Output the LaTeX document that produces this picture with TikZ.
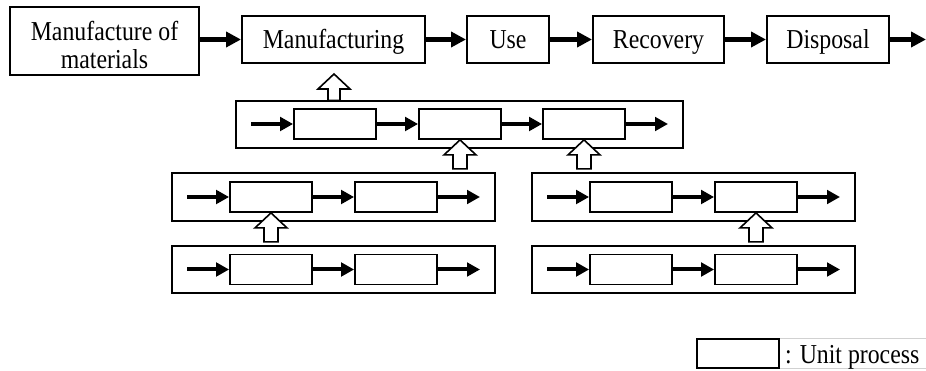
\documentclass[tikz,border=0pt]{standalone}
\usepackage{fontspec}
\setmainfont{Liberation Serif}
\usetikzlibrary{arrows.meta}

% serif labels, set slightly tall
\newcommand\tallword[1]{\scalebox{1}[1.15]{#1}}

\tikzset{
  stage/.style={draw, line width=2pt, inner sep=0pt,
    font=\fontsize{23.8}{27}\selectfont, text height=21pt, text depth=2pt},
  stagetext/.style={inner sep=0pt, font=\fontsize{23.8}{27}\selectfont},
  chain/.style={draw, line width=2pt, inner sep=0pt},
  unitbox/.style={draw, line width=1.8pt, inner sep=0pt,
    minimum width=82pt, minimum height=30pt},
  flow/.style={line width=4.3pt, -{Triangle[length=15pt,width=15pt]}},
  flowsmall/.style={line width=4pt, -{Triangle[length=13pt,width=13.5pt]}},
  hollow/.style={draw, fill=white, line width=1.6pt, line join=miter},
}

\begin{document}
\begin{tikzpicture}[x=1pt, y=-1pt]
\useasboundingbox (0,0) rectangle (926,371);

% life-cycle stages
\node[stage, minimum width=189pt, minimum height=68pt] (mat) at (104.5,41) {};
\node[stagetext, anchor=base] (matA) at (104.5,40.7) {\tallword{Manufacture of}};
\node[stagetext, anchor=base] (matB) at (104.5,68.3) {\tallword{materials}};
\node[stage, minimum width=183pt, minimum height=47pt] (mfg) at (333.5,39.5) {\tallword{Manufacturing}};
\node[stage, minimum width=82pt,  minimum height=47pt] (use) at (508,39.5) {\tallword{Use}};
\node[stage, minimum width=131pt, minimum height=47pt] (rec) at (658.5,39.5) {\tallword{Recovery}};
\node[stage, minimum width=122pt, minimum height=47pt] (dis) at (828,39.5) {\tallword{Disposal}};
\coordinate (out) at (926,39.5);

\draw[flow] (mat.east |- mfg.west) -- (mfg.west);
\draw[flow] (mfg) -- (use);
\draw[flow] (use) -- (rec);
\draw[flow] (rec) -- (dis);
\draw[flow] (dis.east) -- (out);

% process chains
\node[chain, minimum width=447pt, minimum height=47pt] (ca) at (459.5,124.5) {};
\node[chain, minimum width=323pt, minimum height=48pt] (cb) at (333.5,197) {};
\node[chain, minimum width=323pt, minimum height=47pt] (cc) at (333.5,269.5) {};
\node[chain, minimum width=323pt, minimum height=48pt] (cd) at (693.5,197) {};
\node[chain, minimum width=323pt, minimum height=47pt] (ce) at (693.5,269.5) {};

% chain A
\node[unitbox] (a1) at (335,124) {};
\node[unitbox] (a2) at (460,124) {};
\node[unitbox] (a3) at (584,124) {};
\coordinate (ain) at (251,124);
\coordinate (aout) at (668,124);
\draw[flowsmall] (ain) -- (a1.west);
\draw[flowsmall] (a1) -- (a2);
\draw[flowsmall] (a2) -- (a3);
\draw[flowsmall] (a3.east) -- (aout);

% chain B
\node[unitbox] (b1) at (271,197) {};
\node[unitbox] (b2) at (396,197) {};
\coordinate (bin) at (187,197);
\coordinate (bout) at (480,197);
\draw[flowsmall] (bin) -- (b1.west);
\draw[flowsmall] (b1) -- (b2);
\draw[flowsmall] (b2.east) -- (bout);

% chain C
\node[unitbox] (c1) at (271,269.5) {};
\node[unitbox] (c2) at (396,269.5) {};
\coordinate (cin) at (187,269.5);
\coordinate (cout) at (480,269.5);
\draw[flowsmall] (cin) -- (c1.west);
\draw[flowsmall] (c1) -- (c2);
\draw[flowsmall] (c2.east) -- (cout);

% chain D
\node[unitbox] (d1) at (631,197) {};
\node[unitbox] (d2) at (756,197) {};
\coordinate (din) at (547,197);
\coordinate (dout) at (840,197);
\draw[flowsmall] (din) -- (d1.west);
\draw[flowsmall] (d1) -- (d2);
\draw[flowsmall] (d2.east) -- (dout);

% chain E
\node[unitbox] (e1) at (631,269.5) {};
\node[unitbox] (e2) at (756,269.5) {};
\coordinate (ein) at (547,269.5);
\coordinate (eout) at (840,269.5);
\draw[flowsmall] (ein) -- (e1.west);
\draw[flowsmall] (e1) -- (e2);
\draw[flowsmall] (e2.east) -- (eout);

% hollow supply arrows
\coordinate (tipm) at (334,74);
\draw[hollow] (tipm) -- ++(16,15) -- ++(-10,0) -- ++(0,11.5) -- ++(-12,0)
  -- ++(0,-11.5) -- ++(-10,0) -- cycle;
\draw[hollow] (a2.south) -- ++(16,15) -- ++(-9,0) -- ++(0,14) -- ++(-14,0)
  -- ++(0,-14) -- ++(-9,0) -- cycle;
\draw[hollow] (a3.south) -- ++(16,15) -- ++(-9,0) -- ++(0,14) -- ++(-14,0)
  -- ++(0,-14) -- ++(-9,0) -- cycle;
\draw[hollow] (b1.south) -- ++(16,15) -- ++(-9,0) -- ++(0,14) -- ++(-14,0)
  -- ++(0,-14) -- ++(-9,0) -- cycle;
\draw[hollow] (d2.south) -- ++(16,15) -- ++(-9,0) -- ++(0,14) -- ++(-14,0)
  -- ++(0,-14) -- ++(-9,0) -- cycle;

% legend
\draw[black!18, line width=0.8pt] (780,338) -- (926,338);
\draw[black!18, line width=0.8pt] (780,368) -- (926,368);
\node[unitbox, minimum height=29pt] (key) at (738,353.5) {};
\node[stagetext, anchor=base west] (keytext) at (785,363.3) {\tallword{: Unit process}};
\end{tikzpicture}
\end{document}
